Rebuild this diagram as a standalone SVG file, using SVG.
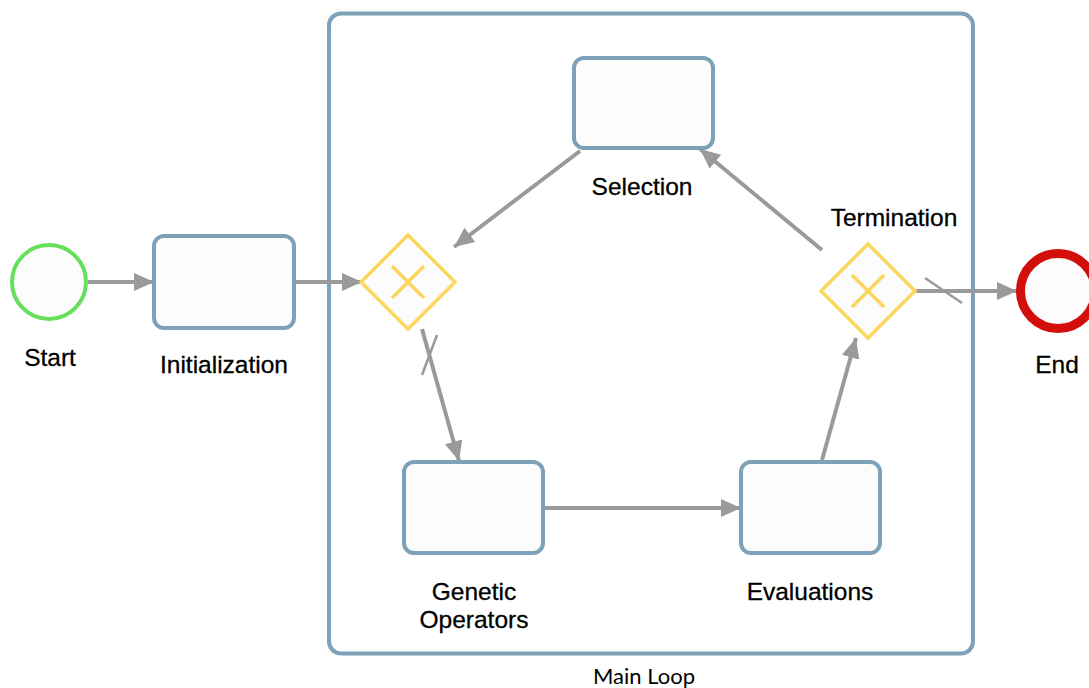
<svg xmlns="http://www.w3.org/2000/svg" width="1089" height="688" viewBox="0 0 1089 688">
  <defs>
    <marker id="arrow" markerUnits="userSpaceOnUse" markerWidth="22" markerHeight="20" refX="20" refY="9" orient="auto">
      <path d="M0,0 L20,9 L0,18 Z" fill="#9a9a9a"/>
    </marker>
    <style>
      .task { fill: #fcfcfc; stroke: #7ea1ba; stroke-width: 4; }
      .gateway { fill: #fcfcfc; stroke: #fdd65e; stroke-width: 3.5; }
      .gw-mark { stroke: #fdd65e; stroke-width: 3.5; fill: none; }
      .flow { stroke: #9a9a9a; stroke-width: 4; fill: none; }
      .flow-arrow { stroke: #9a9a9a; stroke-width: 4; fill: none; marker-end: url(#arrow); }
      .slash { stroke: #9a9a9a; stroke-width: 2.5; fill: none; }
      .label { font-family: "Liberation Sans", Arial, sans-serif; font-size: 24.5px; fill: #000; stroke: #000; stroke-width: 0.3; text-anchor: middle; }
      .sub-label { font-family: Lato, "Liberation Sans", sans-serif; font-size: 22px; fill: #000; text-anchor: middle; }
    </style>
  </defs>

  <rect width="1089" height="688" fill="#ffffff"/>

  <!-- sub-process container -->
  <g id="main-loop">
    <rect x="329" y="13.5" width="644" height="640" rx="12" fill="#ffffff" stroke="#7ea1ba" stroke-width="4"/>
    <text class="sub-label" x="644" y="684">Main Loop</text>
  </g>

  <!-- sequence flows -->
  <g id="connectors">
    <line class="flow-arrow" x1="88" y1="282" x2="154" y2="282"/>
    <line class="flow-arrow" x1="296" y1="282" x2="362" y2="282"/>
    <line class="flow-arrow" x1="580" y1="151" x2="454" y2="247"/>
    <line class="flow-arrow" x1="422" y1="329" x2="459" y2="461"/>
    <line class="slash" x1="437" y1="335" x2="422" y2="375"/>
    <line class="flow-arrow" x1="544" y1="508" x2="741" y2="508"/>
    <line class="flow-arrow" x1="822" y1="460" x2="856" y2="338"/>
    <line class="flow-arrow" x1="822" y1="250" x2="700" y2="149"/>
    <line class="flow-arrow" x1="915" y1="291" x2="1017" y2="291"/>
    <line class="slash" x1="925" y1="278" x2="962" y2="303"/>
  </g>

  <g id="start">
    <circle cx="49" cy="282" r="37" fill="#fcfcfc" stroke="#66e05c" stroke-width="4"/>
    <text class="label" x="50" y="366">Start</text>
  </g>

  <g id="initialization">
    <rect class="task" x="154" y="236" width="140" height="92" rx="10"/>
    <text class="label" x="224" y="373">Initialization</text>
  </g>

  <g id="merge-gateway">
    <polygon class="gateway" points="408,235 455,282 408,329 361,282"/>
    <path class="gw-mark" d="M392,266 L424,298 M424,266 L392,298"/>
  </g>

  <g id="selection">
    <rect class="task" x="574" y="58" width="139" height="90" rx="10"/>
    <text class="label" x="642" y="195">Selection</text>
  </g>

  <g id="genetic-operators">
    <rect class="task" x="404" y="462" width="139" height="91" rx="10"/>
    <text class="label" x="474" y="600">Genetic</text>
    <text class="label" x="474" y="628">Operators</text>
  </g>

  <g id="evaluations">
    <rect class="task" x="741" y="462" width="139" height="91" rx="10"/>
    <text class="label" x="810" y="600">Evaluations</text>
  </g>

  <g id="termination">
    <polygon class="gateway" points="868,244 915,291 868,338 821,291"/>
    <path class="gw-mark" d="M852,275 L884,307 M884,275 L852,307"/>
    <text class="label" x="894" y="226">Termination</text>
  </g>

  <g id="end">
    <circle cx="1058" cy="291" r="37.5" fill="#fcfcfc" stroke="#d20f0a" stroke-width="9"/>
    <text class="label" x="1057" y="373">End</text>
  </g>
</svg>
